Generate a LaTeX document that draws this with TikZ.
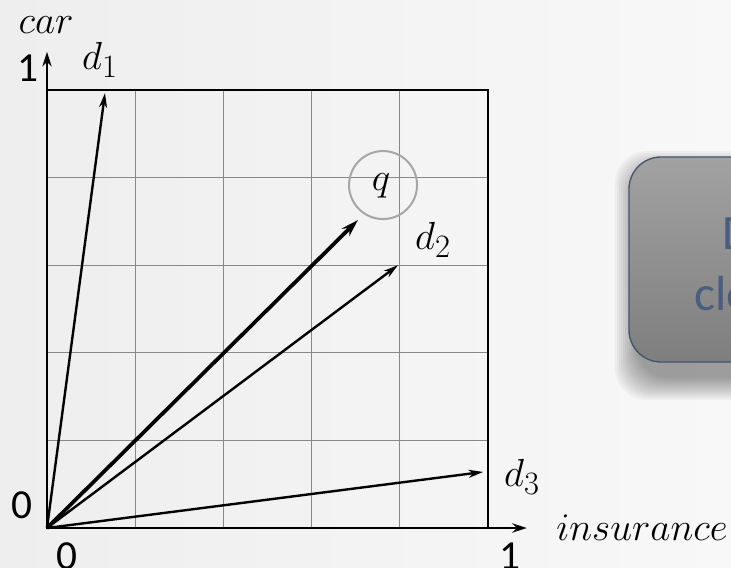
\documentclass[tikz,border=0pt]{standalone}
\usepackage{fontspec}
\newfontfamily\carlito{Carlito}
\usetikzlibrary{arrows.meta}
\definecolor{bgL}{HTML}{EEEEEE}
\definecolor{bgR}{HTML}{F8F8F8}
\definecolor{gridgray}{HTML}{888888}
\definecolor{circgray}{HTML}{A6A6A6}
\definecolor{boxtop}{HTML}{A2A2A2}
\definecolor{boxbot}{HTML}{7E7E7E}
\definecolor{boxedge}{HTML}{44546A}
\definecolor{boxtext}{HTML}{4A5D7E}
\begin{document}
\begin{tikzpicture}[x=0.75pt,y=-0.75pt,
  vec/.style={line width=1.8pt,-{Stealth[length=11pt,width=6pt]}},
  qvec/.style={line width=2.8pt,-{Stealth[length=13pt,width=8pt]}},
  axis/.style={line width=1.5pt,-{Stealth[length=11pt,width=7pt]}},
  gridline/.style={gridgray,line width=0.9pt},
  frame/.style={line width=2.1pt},
  mlabel/.style={font=\fontsize{24.88}{30}\selectfont,inner sep=0pt,scale=1.18},
  nlabel/.style={font=\carlito\fontsize{31}{36}\selectfont,inner sep=0pt},
  btext/.style={font=\carlito\fontsize{37}{44}\selectfont,text=boxtext,inner sep=0pt,anchor=west}]
\useasboundingbox (0,0) rectangle (731,567);
\shade[left color=bgL,right color=bgR] (0,0) rectangle (731,567);
% shadow of the box
\foreach \r in {0,2,...,22}{
  \fill[black,opacity=0.035,rounded corners=24pt]
    ({629+8-22+\r},{157+16-22+\r}) rectangle ({960-\r},{362+16+22-\r});
}
% box
\shade[top color=boxtop,bottom color=boxbot,rounded corners=24pt]
  (629,157) rectangle (960,362);
\draw[boxedge,line width=1pt,rounded corners=24pt]
  (629,157) rectangle (960,362);
\node[btext] (bD) at (722,234) {D};
\node[btext] (bclo) at (694,294) {clo};
% plot
\begin{scope}[shift={(47,528)},x=330.75pt,y=328.5pt]
  \coordinate (O) at (0,0);
  \draw[gridline] (0,0) grid[step=0.2] (1,1);
  \draw[frame] (0,0) rectangle (1,1);
  \coordinate (ytip) at (0,1.087);
  \coordinate (xtip) at (1.088,0);
  \draw[axis] (O) -- (ytip);
  \draw[axis] (O) -- (xtip);
  \coordinate (d1) at (0.1315,0.993);
  \coordinate (d2) at (0.796,0.600);
  \coordinate (d3) at (0.989,0.128);
  \coordinate (qt) at (0.705,0.703);
  \draw[vec] (O) -- (d1);
  \draw[vec] (O) -- (d2);
  \draw[vec] (O) -- (d3);
  \draw[qvec] (O) -- (qt);
  \draw[circgray,line width=1.5pt] (0.762,0.783) circle[radius=25.5pt];
\end{scope}
\node[mlabel] (car) at (46,25) {$car$};
\node[mlabel] (d1l) at (100,60) {$d_1$};
\node[mlabel] (ql) at (381,186) {$q$};
\node[mlabel] (d2l) at (433,240) {$d_2$};
\node[mlabel] (d3l) at (522,477) {$d_3$};
\node[mlabel] (ins) at (642,528) {$insurance$};
\node[nlabel] (one) at (28,68) {1};
\node[nlabel] (zl) at (22,505) {0};
\node[nlabel] (zb) at (67,556) {0};
\node[nlabel] (oneb) at (510,556) {1};
\end{tikzpicture}
\end{document}
